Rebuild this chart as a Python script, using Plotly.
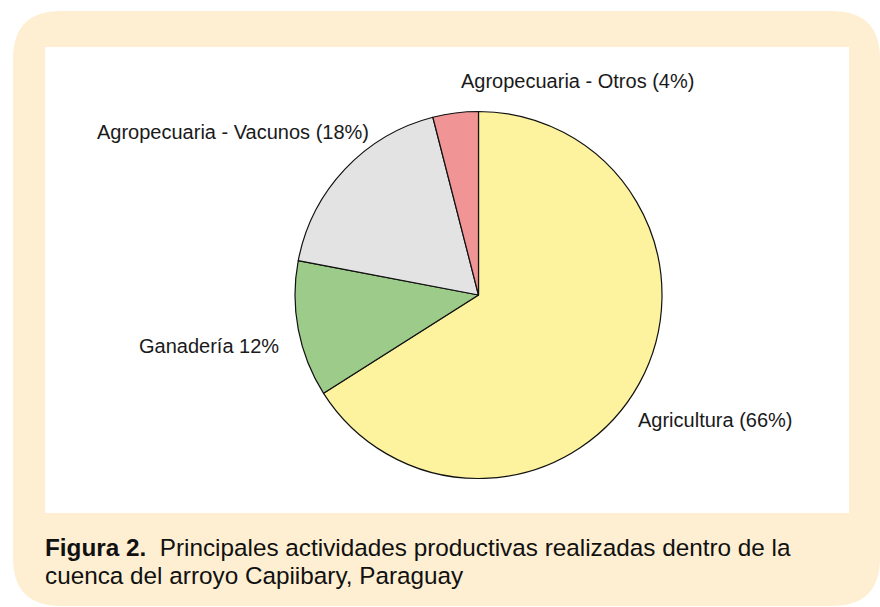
import plotly.graph_objects as go

W, H = 880, 607

labels = ["Agricultura (66%)", "Ganadería 12%", "Agropecuaria - Vacunos (18%)", "Agropecuaria - Otros (4%)"]
values = [66, 12, 18, 4]
colors = ["#FDF29E", "#9DCB8A", "#E2E3E2", "#F09495"]

# label anchor points in pixels (x, y from top)
label_pos = [(715, 420), (209, 346), (233, 132), (577, 81)]

caption_lines = [
    "<b>Figura 2.</b>  Principales actividades productivas realizadas dentro de la",
    "cuenca del arroyo Capiibary, Paraguay",
]
caption_y = [547, 575]


def px(x):
    return x / W


def py(y):
    return 1 - y / H


cx, cy, r = 478.5, 295, 183.5

fig = go.Figure(go.Pie(
    labels=labels,
    values=values,
    sort=False,
    direction="clockwise",
    rotation=0,
    marker=dict(colors=colors, line=dict(color="#111111", width=1.2)),
    textinfo="none",
    hoverinfo="label",
    showlegend=False,
    domain=dict(x=[px(cx - r), px(cx + r)], y=[py(cy + r), py(cy - r)]),
))


def rounded_rect(x0, y0, x1, y1, rad):
    # pixel coords -> paper coords path
    pts = [
        f"M {px(x0 + rad)} {py(y0)}",
        f"L {px(x1 - rad)} {py(y0)}",
        f"Q {px(x1)} {py(y0)} {px(x1)} {py(y0 + rad)}",
        f"L {px(x1)} {py(y1 - rad)}",
        f"Q {px(x1)} {py(y1)} {px(x1 - rad)} {py(y1)}",
        f"L {px(x0 + rad)} {py(y1)}",
        f"Q {px(x0)} {py(y1)} {px(x0)} {py(y1 - rad)}",
        f"L {px(x0)} {py(y0 + rad)}",
        f"Q {px(x0)} {py(y0)} {px(x0 + rad)} {py(y0)}",
        "Z",
    ]
    return " ".join(pts)


shapes = [
    dict(type="path", xref="paper", yref="paper", layer="below",
         path=rounded_rect(13, 11, 880, 606, 48),
         fillcolor="#FEEFD2", line=dict(width=0)),
    dict(type="rect", xref="paper", yref="paper", layer="below",
         x0=px(45), x1=px(849), y0=py(513), y1=py(47),
         fillcolor="white", line=dict(width=0)),
]

annotations = []
for lab, (x, y) in zip(labels, label_pos):
    annotations.append(dict(
        text=lab, x=px(x), y=py(y), xref="paper", yref="paper",
        showarrow=False, xanchor="center", yanchor="middle",
        font=dict(size=20, color="#1a1a1a"),
    ))

for line, y in zip(caption_lines, caption_y):
    annotations.append(dict(
        text=line, x=px(43), y=py(y), xref="paper", yref="paper",
        showarrow=False, xanchor="left", yanchor="middle", align="left",
        font=dict(size=24.3, color="#111111"),
    ))

fig.update_layout(
    width=W, height=H,
    margin=dict(l=0, r=0, t=0, b=0),
    paper_bgcolor="white",
    plot_bgcolor="white",
    font=dict(family="Liberation Sans, Arial, Helvetica, sans-serif"),
    shapes=shapes,
    annotations=annotations,
)

fig.write_html("out.html", config={"displayModeBar": False},
               post_script="document.body.style.margin='0';")
